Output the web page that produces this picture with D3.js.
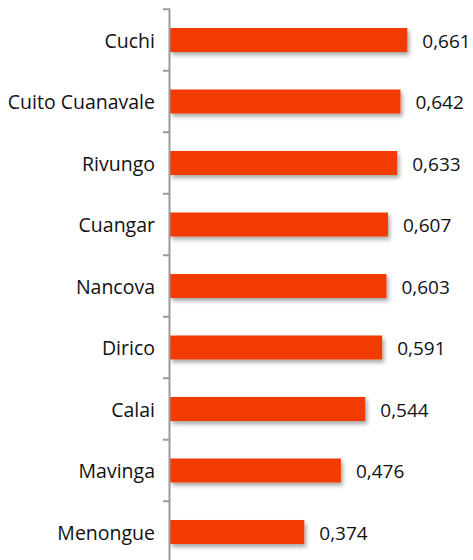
<!DOCTYPE html>
<html><head><meta charset="utf-8">
<script src="https://cdn.jsdelivr.net/npm/d3@7/dist/d3.min.js"></script>
<style>body{margin:0;background:#fff}svg{display:block}text{font-family:"Open Sans","Liberation Sans",sans-serif}</style>
</head><body>
<script>
const categories = ["Cuchi","Cuito Cuanavale","Rivungo","Cuangar","Nancova","Dirico","Calai","Mavinga","Menongue"];
const values = [0.661,0.642,0.633,0.607,0.603,0.591,0.544,0.476,0.374];
const labels = ["0,661","0,642","0,633","0,607","0,603","0,591","0,544","0,476","0,374"];

const W=473,H=560;
const svg=d3.select("body").append("svg").attr("width",W).attr("height",H);
const defs=svg.append("defs");
const f=defs.append("filter").attr("id","sh").attr("x","-10%").attr("y","-20%").attr("width","130%").attr("height","160%");
f.append("feDropShadow").attr("dx",2).attr("dy",3).attr("stdDeviation",2).attr("flood-color","#000").attr("flood-opacity",0.35);

const x=d3.scaleLinear().domain([0,0.8]).range([170,170+0.8*359]);
const y=d3.scaleBand().domain(categories).range([9.25,9.25+9*61.5]).paddingInner(0.61).paddingOuter(0.305);

svg.append("g").selectAll("rect").data(values).join("rect")
 .attr("x",x(0)).attr("y",(d,i)=>y(categories[i])).attr("width",d=>x(d)-x(0)).attr("height",y.bandwidth())
 .attr("fill","#F23A02").attr("filter","url(#sh)");

// axis
const band=d3.scaleBand().domain(categories).range([9.25,9.25+9*61.5]);
const ag=svg.append("g");
ag.append("line").attr("x1",169.5).attr("x2",169.5).attr("y1",band.range()[0]).attr("y2",H+5).attr("stroke","#9a9a9a").attr("stroke-width",2);
const tickYs=categories.map(c=>band(c)).concat([band.range()[1]]);
ag.selectAll(".t").data(tickYs).join("line").attr("x1",163).attr("x2",170).attr("y1",d=>d).attr("y2",d=>d).attr("stroke","#9a9a9a").attr("stroke-width",2);

svg.append("g").selectAll("text").data(categories).join("text")
 .attr("x",155).attr("y",d=>y(d)+y.bandwidth()/2+1).attr("dy","0.35em").attr("text-anchor","end")
 .attr("font-size",19.5).attr("fill","#111").text(d=>d);

svg.append("g").selectAll("text").data(values).join("text")
 .attr("x",d=>x(d)+15).attr("y",(d,i)=>y(categories[i])+y.bandwidth()/2+1).attr("dy","0.35em")
 .attr("font-size",19).attr("fill","#111").text((d,i)=>labels[i]);
</script>
</body></html>
